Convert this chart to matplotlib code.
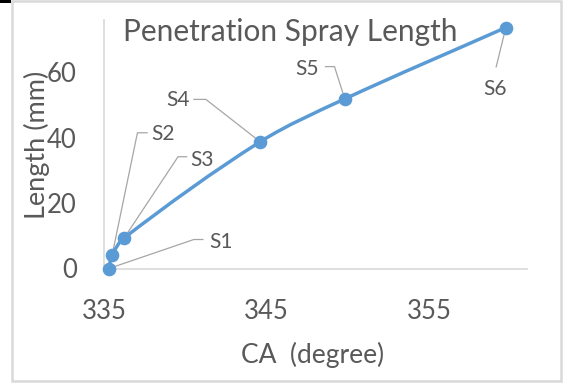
import numpy as np
import matplotlib
matplotlib.use("Agg")
import matplotlib.pyplot as plt
from matplotlib.path import Path
from matplotlib.patches import PathPatch, Rectangle

# Spray penetration measurements (crank angle in degrees, length in mm)
labels = ["S1", "S2", "S3", "S4", "S5", "S6"]
crank_angle = [335.3, 335.5, 336.25, 344.6, 349.8, 359.7]
length_mm = [0.0, 4.1, 9.4, 38.7, 51.8, 73.6]
x_ticks = [335, 345, 355]
y_ticks = [0, 20, 40, 60]

W, H, DPI = 566, 383, 100
BLUE = "#5B9BD5"
TEXT = "#595959"
GRID = "#D9D9D9"
LEADER = "#A6A6A6"

plt.rcParams["font.family"] = ["Lato", "DejaVu Sans"]

fig = plt.figure(figsize=(W / DPI, H / DPI), dpi=DPI)
fig.patch.set_facecolor("white")

# chart frame
fig.patches.append(Rectangle((11.5 / W, 1 - 381 / H), (561 - 11.5) / W, (381 - 1) / H,
                             transform=fig.transFigure, fill=False,
                             edgecolor=GRID, linewidth=1.8, zorder=0))
fig.patches.append(Rectangle((0, 1 - 3 / H), 11 / W, 3 / H, transform=fig.transFigure,
                             facecolor="black", edgecolor="none", zorder=1))

ax_l, ax_r, ax_b, ax_t = 104, 527, 268.5, 20
ax = fig.add_axes([ax_l / W, 1 - ax_b / H, (ax_r - ax_l) / W, (ax_b - ax_t) / H])
ax.set_facecolor("none")
ax.set_xlim(335, 361.0)
ax.set_ylim(0, 75.9)

for side in ("top", "right"):
    ax.spines[side].set_visible(False)
for side in ("left", "bottom"):
    ax.spines[side].set_color(GRID)
    ax.spines[side].set_linewidth(1.2)

ax.set_xticks(x_ticks)
ax.set_yticks(y_ticks)
ax.tick_params(axis="both", length=0, labelsize=18.5, colors=TEXT)
ax.tick_params(axis="x", pad=22)
ax.tick_params(axis="y", pad=19.5)

ax.set_xlabel("CA  (degree)", fontsize=19, color=TEXT)
ax.xaxis.set_label_coords((313 - ax_l) / (ax_r - ax_l), (ax_b - 355) / (ax_b - ax_t))
ax.xaxis.label.set_verticalalignment("center")
ax.set_ylabel("Length (mm)", fontsize=19.5, color=TEXT)
ax.yaxis.set_label_coords((37 - ax_l) / (ax_r - ax_l), (ax_b - 145) / (ax_b - ax_t))
ax.yaxis.label.set_verticalalignment("center")

fig.text(290 / W, 1 - 32 / H, "Penetration Spray Length", fontsize=21.5,
         color=TEXT, ha="center", va="center")

# smoothed connecting line built as cubic Bezier segments in display space
fig.canvas.draw()
pts = ax.transData.transform(np.column_stack([crank_angle, length_mm]))
n = len(pts)
verts = [pts[0]]
codes = [Path.MOVETO]
for i in range(n - 1):
    p0, p1 = pts[i], pts[i + 1]
    seg = np.linalg.norm(p1 - p0)
    prev_pt = pts[i - 1] if i > 0 else p0
    next_pt = pts[i + 2] if i + 2 < n else p1
    t0 = p1 - prev_pt
    t1 = next_pt - p0
    t0 = t0 / np.linalg.norm(t0)
    t1 = t1 / np.linalg.norm(t1)
    c1 = p0 + t0 * seg / 3
    c2 = p1 - t1 * seg / 3
    verts += [c1, c2, p1]
    codes += [Path.CURVE4] * 3
verts_data = ax.transData.inverted().transform(np.array(verts))
ax.add_patch(PathPatch(Path(verts_data, codes), facecolor="none", edgecolor=BLUE,
                       linewidth=2.5, capstyle="round", zorder=3, clip_on=False))
ax.plot(crank_angle, length_mm, linestyle="none", marker="o", markersize=8.8,
        color=BLUE, zorder=4, clip_on=False)

# data labels with leader lines (offsets in pixels from each point)
label_layout = {
    "S1": dict(text=(112, 26.5), lead=[(85, 29), (94, 29)]),
    "S2": dict(text=(51.3, 121), lead=[(25.3, 122.3), (35, 122.3)]),
    "S3": dict(text=(77.4, 77.7), lead=[(53.7, 81), (62.4, 81)]),
    "S4": dict(text=(-82.6, 41.7), lead=[(-54.3, 42.4), (-66.3, 42.4)]),
    "S5": dict(text=(-37.3, 30), lead=[(-10.3, 32.3), (-19.3, 32.3)]),
    "S6": dict(text=(-10.7, -61), lead=[(-9.7, -39.4)]),
}
inv = ax.transData.inverted()
for name, p in zip(labels, pts):
    lay = label_layout[name]
    path_px = [p] + [p + np.array(o) for o in lay["lead"]]
    path_data = inv.transform(np.array(path_px))
    ax.plot(path_data[:, 0], path_data[:, 1], color=LEADER, linewidth=0.9,
            zorder=2, clip_on=False)
    tx, ty = inv.transform(p + np.array(lay["text"]))
    ax.text(tx, ty, name, fontsize=15, color=TEXT, ha="center", va="center",
            zorder=5, clip_on=False)

fig.savefig("out.png", dpi=DPI, facecolor="white")
